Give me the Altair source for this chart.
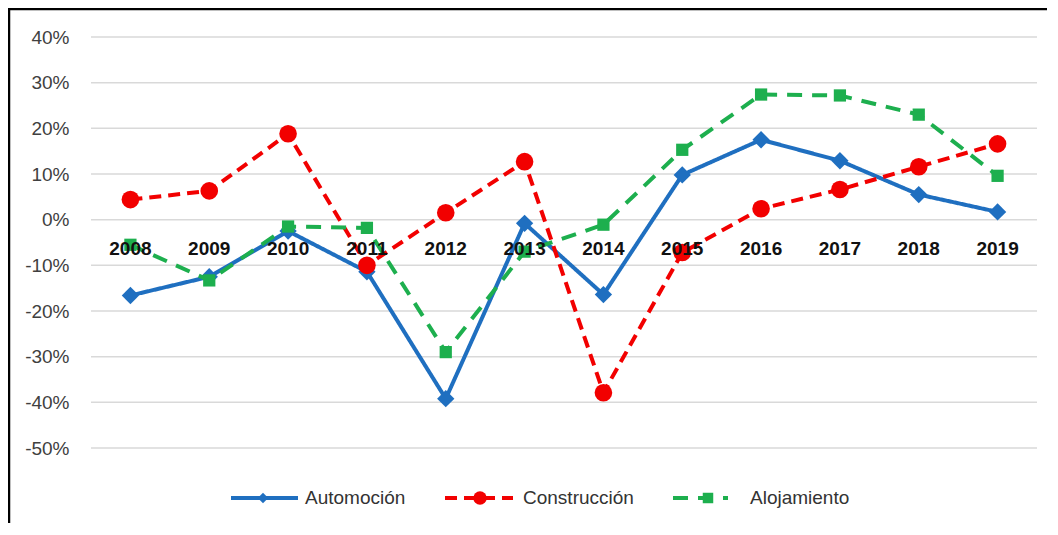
import altair as alt
import pandas as pd

years = ["2008", "2009", "2010", "2011", "2012", "2013", "2014", "2015", "2016", "2017", "2018", "2019"]
series_names = ["Automoción", "Construcción", "Alojamiento"]
automocion = [-0.166, -0.125, -0.025, -0.114, -0.392, -0.008, -0.164, 0.098, 0.175, 0.129, 0.055, 0.017]
construccion = [0.044, 0.063, 0.188, -0.100, 0.015, 0.127, -0.379, -0.072, 0.024, 0.066, 0.116, 0.166]
alojamiento = [-0.055, -0.133, -0.015, -0.018, -0.290, -0.070, -0.011, 0.153, 0.274, 0.272, 0.230, 0.096]
y_ticks = [-0.5, -0.4, -0.3, -0.2, -0.1, 0.0, 0.1, 0.2, 0.3, 0.4]

colors = ["#1F6FC0", "#F20000", "#1DAF4E"]
dashes = [[1, 0], [12, 7], [15, 10]]
shapes = ["diamond", "circle", "square"]
sizes = [300, 310, 150]
legend_sizes = [110, 180, 110]

W, H = 946, 411
values = [automocion, construccion, alojamiento]

rows = []
for name, vals in zip(series_names, values):
    for yr, v in zip(years, vals):
        rows.append({"year": yr, "value": v, "serie": name})
df = pd.DataFrame(rows)

xscale = alt.Scale(domain=years)
yscale = alt.Scale(domain=[-0.5, 0.4], nice=False, zero=False)

grid = alt.Chart(pd.DataFrame({"t": y_ticks})).mark_rule(color="#D9D9D9", strokeWidth=1.5).encode(
    y=alt.Y("t:Q", scale=yscale,
            axis=alt.Axis(values=y_ticks, format=".0%", domain=False, ticks=False, grid=False,
                          labelExpr="replace(datum.label, '\u2212', '-')",
                          labelPadding=22, labelFontSize=19, labelFont="Liberation Sans",
                          labelColor="#404040", title=None)),
    x=alt.value(0), x2=alt.value(W),
)

layers = [grid]
for i, name in enumerate(series_names):
    sub = df[df.serie == name]
    base = alt.Chart(sub)
    line = base.mark_line(color=colors[i], strokeWidth=4, strokeDash=dashes[i]).encode(
        x=alt.X("year:O", scale=xscale, axis=None),
        y=alt.Y("value:Q", scale=yscale),
    )
    pts = base.mark_point(shape=shapes[i], filled=True, opacity=1, color=colors[i], size=sizes[i]).encode(
        x=alt.X("year:O", scale=xscale, axis=None),
        y=alt.Y("value:Q", scale=yscale),
    )
    layers += [line, pts]

labels = alt.Chart(pd.DataFrame({"year": years, "zero": [0.0] * len(years)})).mark_text(
    dy=29, fontSize=19, fontWeight="bold", font="Liberation Sans", color="#111111"
).encode(
    x=alt.X("year:O", scale=xscale, axis=None),
    y=alt.Y("zero:Q", scale=yscale),
    text="year:N",
)
layers.append(labels)

# custom legend
leg_x = [(140, 207, 172, 214), (354, 422, 389, 432), (582, 637, 617, 659)]
leg_y = 461
one = pd.DataFrame({"serie": series_names})
for i, name in enumerate(series_names):
    x1, x2, xm, xt = leg_x[i]
    d = one[one.serie == name]
    layers.append(alt.Chart(d).mark_rule(color=colors[i], strokeWidth=4, strokeDash=dashes[i]).encode(
        x=alt.value(x1), x2=alt.value(x2), y=alt.value(leg_y)))
    layers.append(alt.Chart(d).mark_point(shape=shapes[i], filled=True, opacity=1, color=colors[i],
                                          size=legend_sizes[i]).encode(
        x=alt.value(xm), y=alt.value(leg_y)))
    layers.append(alt.Chart(d).mark_text(align="left", baseline="middle", fontSize=19,
                                         font="Liberation Sans", color="#333333").encode(
        x=alt.value(xt), y=alt.value(leg_y), text="serie:N"))

frame = alt.Chart(pd.DataFrame({"a": [0]})).mark_rect(
    fillOpacity=0, stroke="black", strokeWidth=2.5
).encode(x=alt.value(-82), x2=alt.value(W + 200), y=alt.value(-28), y2=alt.value(H + 200))
layers.append(frame)

chart = alt.layer(*layers).properties(
    width=W, height=H,
    background="white",
    autosize=alt.AutoSizeParams(type="none"),
    padding={"left": 83, "top": 29, "right": 10, "bottom": 75},
).configure_view(stroke=None, strokeWidth=0).configure_axis(
    domain=False, ticks=False
)

chart.save("out.html", embed_options={"renderer": "svg", "actions": False})
